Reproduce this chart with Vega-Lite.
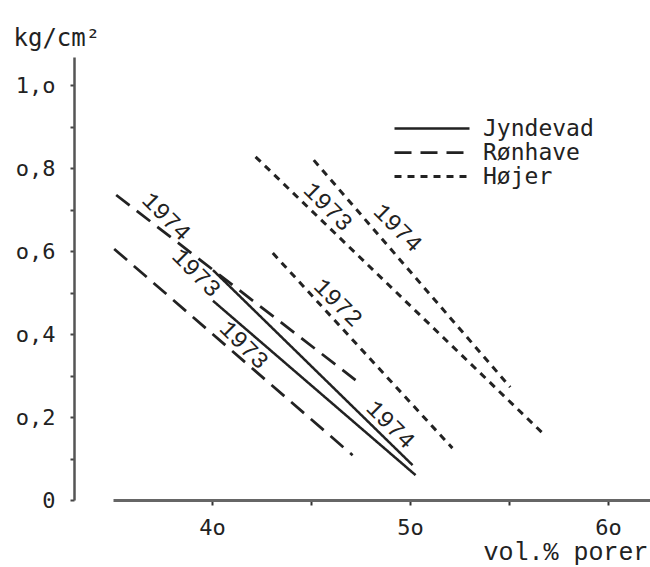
{
  "$schema": "https://vega.github.io/schema/vega-lite/v6.json",
  "width": 537,
  "height": 443,
  "autosize": {"type": "none"},
  "padding": {"left": 113, "top": 57, "right": 0, "bottom": 67},
  "background": "white",
  "config": {"view": {"stroke": null}},
  "datasets": {
    "lines": [
      {"site": "Jyndevad", "year": "1974", "x": 40.05, "y": 0.554},
      {"site": "Jyndevad", "year": "1974", "x": 50.13, "y": 0.084},
      {"site": "Jyndevad", "year": "1973", "x": 40.05, "y": 0.48},
      {"site": "Jyndevad", "year": "1973", "x": 50.28, "y": 0.06},
      {"site": "Rønhave", "year": "1974", "x": 35.16, "y": 0.735},
      {"site": "Rønhave", "year": "1974", "x": 47.25, "y": 0.289},
      {"site": "Rønhave", "year": "1973", "x": 35.06, "y": 0.605},
      {"site": "Rønhave", "year": "1973", "x": 47.1, "y": 0.108},
      {"site": "Højer", "year": "1972", "x": 43.07, "y": 0.595},
      {"site": "Højer", "year": "1972", "x": 52.14, "y": 0.125},
      {"site": "Højer", "year": "1973", "x": 42.2, "y": 0.827},
      {"site": "Højer", "year": "1973", "x": 56.7, "y": 0.161},
      {"site": "Højer", "year": "1974", "x": 45.14, "y": 0.819},
      {"site": "Højer", "year": "1974", "x": 55.06, "y": 0.272}
    ],
    "labels": [
      {"site": "Rønhave", "year": "1974", "x": 37.68, "y": 0.682},
      {"site": "Jyndevad", "year": "1973", "x": 39.19, "y": 0.547},
      {"site": "Rønhave", "year": "1973", "x": 41.6, "y": 0.373},
      {"site": "Jyndevad", "year": "1974", "x": 49.0, "y": 0.181},
      {"site": "Højer", "year": "1973", "x": 45.84, "y": 0.706},
      {"site": "Højer", "year": "1974", "x": 49.37, "y": 0.655},
      {"site": "Højer", "year": "1972", "x": 46.35, "y": 0.475}
    ]
  },
  "layer": [
    {
      "data": {"name": "lines"},
      "mark": {"type": "line", "color": "#222", "strokeCap": "butt"},
      "encoding": {
        "x": {
          "field": "x", "type": "quantitative",
          "scale": {"domain": [35, 62.12], "nice": false, "zero": false},
          "axis": {
            "values": [40, 45, 50, 55, 60],
            "labelExpr": "datum.value == 40 ? '4o' : datum.value == 50 ? '5o' : datum.value == 60 ? '6o' : ''",
            "domainColor": "#666", "domainWidth": 3,
            "tickColor": "#333", "tickWidth": 2, "tickSize": 5,
            "grid": false,
            "labelFont": "DejaVu Sans Mono", "labelFontSize": 22, "labelColor": "#222",
            "labelPadding": 12, "labelFlush": false,
            "title": "vol.% porer",
            "titleFont": "Liberation Mono", "titleFontSize": 25, "titleFontWeight": "normal", "titleColor": "#222",
            "titleX": 535, "titleY": 59, "titleAlign": "right", "titleBaseline": "alphabetic"
          }
        },
        "y": {
          "field": "y", "type": "quantitative",
          "scale": {"domain": [0, 1.0675], "nice": false},
          "axis": {
            "values": [0, 0.1, 0.2, 0.3, 0.4, 0.5, 0.6, 0.7, 0.8, 0.9, 1.0],
            "labelExpr": "round(datum.value*10) == 10 ? '1,o' : round(datum.value*10) == 8 ? 'o,8' : round(datum.value*10) == 6 ? 'o,6' : round(datum.value*10) == 4 ? 'o,4' : round(datum.value*10) == 2 ? 'o,2' : round(datum.value*10) == 0 ? '0' : ''",
            "offset": 39,
            "domainColor": "#555", "domainWidth": 2.5,
            "tickColor": "#444", "tickWidth": 2, "tickSize": 4,
            "grid": false,
            "labelFont": "DejaVu Sans Mono", "labelFontSize": 22, "labelColor": "#222",
            "labelPadding": 15, "labelAlign": "right", "labelBaseline": "middle",
            "title": "kg/cm²",
            "titleFont": "DejaVu Sans Mono", "titleFontSize": 24, "titleFontWeight": "normal", "titleColor": "#222",
            "titleAngle": 0, "titleX": -61, "titleY": -12, "titleAlign": "left", "titleBaseline": "alphabetic"
          }
        },
        "detail": {"field": "year"},
        "strokeDash": {
          "field": "site", "type": "nominal",
          "scale": {"domain": ["Jyndevad", "Rønhave", "Højer"], "range": [[1, 0], [17, 9], [7, 6]]},
          "legend": {
            "title": null,
            "orient": "none", "legendX": 307.5, "legendY": 60,
            "symbolType": "M-3.75,0H3.75", "symbolSize": 400, "symbolStrokeWidth": 3, "symbolStrokeColor": "#222",
            "labelFont": "DejaVu Sans Mono", "labelFontSize": 23, "labelColor": "#222", "labelOffset": 39.5,
            "rowPadding": 0
          }
        },
        "strokeWidth": {
          "field": "site", "type": "nominal",
          "scale": {"domain": ["Jyndevad", "Rønhave", "Højer"], "range": [2.5, 3, 3.5]},
          "legend": null
        }
      }
    },
    {
      "data": {"name": "labels"},
      "mark": {"type": "text", "angle": 45, "font": "Liberation Mono", "fontSize": 24, "color": "#222", "align": "center", "baseline": "middle"},
      "encoding": {
        "x": {"field": "x", "type": "quantitative"},
        "y": {"field": "y", "type": "quantitative"},
        "text": {"field": "year"}
      }
    }
  ]
}
